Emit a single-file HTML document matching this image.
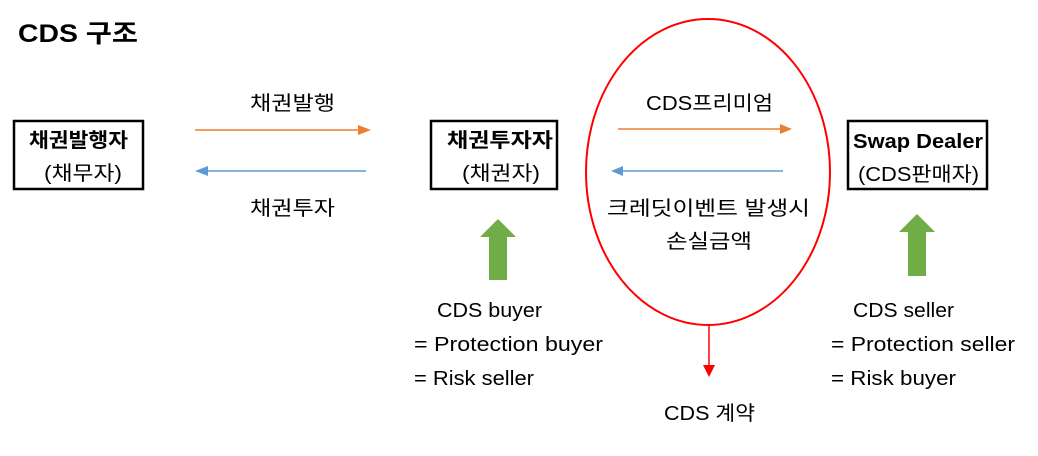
<!DOCTYPE html>
<html><head><meta charset="utf-8"><style>
html,body{margin:0;padding:0;background:#fff;}
svg text{font-family:"Liberation Sans","Noto Sans CJK KR",sans-serif;fill:#000;}
</style></head><body>
<svg width="1038" height="451" viewBox="0 0 1038 451" xmlns="http://www.w3.org/2000/svg">
<text x="18" y="42" font-size="25" font-weight="bold" textLength="120" lengthAdjust="spacingAndGlyphs">CDS 구조</text>
<rect x="14" y="121" width="129" height="68" fill="none" stroke="#000" stroke-width="2.5"/>
<text x="29" y="147" font-size="20" font-weight="bold" textLength="99" lengthAdjust="spacingAndGlyphs">채권발행자</text>
<text x="44" y="180" font-size="20" textLength="78" lengthAdjust="spacingAndGlyphs">(채무자)</text>
<rect x="431" y="121" width="126" height="68" fill="none" stroke="#000" stroke-width="2.5"/>
<text x="447" y="147" font-size="20" font-weight="bold" textLength="106" lengthAdjust="spacingAndGlyphs">채권투자자</text>
<text x="462" y="180" font-size="20" textLength="78" lengthAdjust="spacingAndGlyphs">(채권자)</text>
<rect x="848" y="121" width="139" height="68" fill="none" stroke="#000" stroke-width="2.5"/>
<text x="853" y="148" font-size="20" font-weight="bold" textLength="130" lengthAdjust="spacingAndGlyphs">Swap Dealer</text>
<text x="858" y="181" font-size="20" textLength="121" lengthAdjust="spacingAndGlyphs">(CDS판매자)</text>
<line x1="195" y1="130" x2="360" y2="130" stroke="#ed7d31" stroke-width="1.5"/>
<polygon points="358,125 371,130 358,135" fill="#ed7d31"/>
<line x1="206" y1="171" x2="366" y2="171" stroke="#5b9bd5" stroke-width="1.5"/>
<polygon points="208,166 195,171 208,176" fill="#5b9bd5"/>
<text x="250" y="110" font-size="20" textLength="85" lengthAdjust="spacingAndGlyphs">채권발행</text>
<text x="250" y="215" font-size="20" textLength="85" lengthAdjust="spacingAndGlyphs">채권투자</text>
<ellipse cx="708" cy="172" rx="122" ry="153" fill="none" stroke="#ff0000" stroke-width="2"/>
<line x1="618" y1="129" x2="781" y2="129" stroke="#ed7d31" stroke-width="1.5"/>
<polygon points="780,124 792,129 780,134" fill="#ed7d31"/>
<line x1="622" y1="171" x2="783" y2="171" stroke="#5b9bd5" stroke-width="1.5"/>
<polygon points="623,166 611,171 623,176" fill="#5b9bd5"/>
<text x="646" y="110" font-size="20" textLength="127" lengthAdjust="spacingAndGlyphs">CDS프리미엄</text>
<text x="607" y="215" font-size="20" textLength="203" lengthAdjust="spacingAndGlyphs">크레딧이벤트 발생시</text>
<text x="666" y="248" font-size="20" textLength="86" lengthAdjust="spacingAndGlyphs">손실금액</text>
<line x1="709" y1="325" x2="709" y2="366" stroke="#ff0000" stroke-width="1.5"/>
<polygon points="703,365 715,365 709,377" fill="#ff0000"/>
<text x="664" y="420" font-size="20" textLength="91" lengthAdjust="spacingAndGlyphs">CDS 계약</text>
<polygon points="489,280 507,280 507,237 516,237 498,219 480,237 489,237" fill="#70ad47"/>
<polygon points="908,276 926,276 926,232 935,232 917,214 899,232 908,232" fill="#70ad47"/>
<text x="437" y="317" font-size="20" textLength="105" lengthAdjust="spacingAndGlyphs">CDS buyer</text>
<text x="414" y="351" font-size="20" textLength="189" lengthAdjust="spacingAndGlyphs">= Protection buyer</text>
<text x="414" y="385" font-size="20" textLength="120" lengthAdjust="spacingAndGlyphs">= Risk seller</text>
<text x="853" y="317" font-size="20" textLength="101" lengthAdjust="spacingAndGlyphs">CDS seller</text>
<text x="831" y="351" font-size="20" textLength="184" lengthAdjust="spacingAndGlyphs">= Protection seller</text>
<text x="831" y="385" font-size="20" textLength="125" lengthAdjust="spacingAndGlyphs">= Risk buyer</text>
</svg>
</body></html>
